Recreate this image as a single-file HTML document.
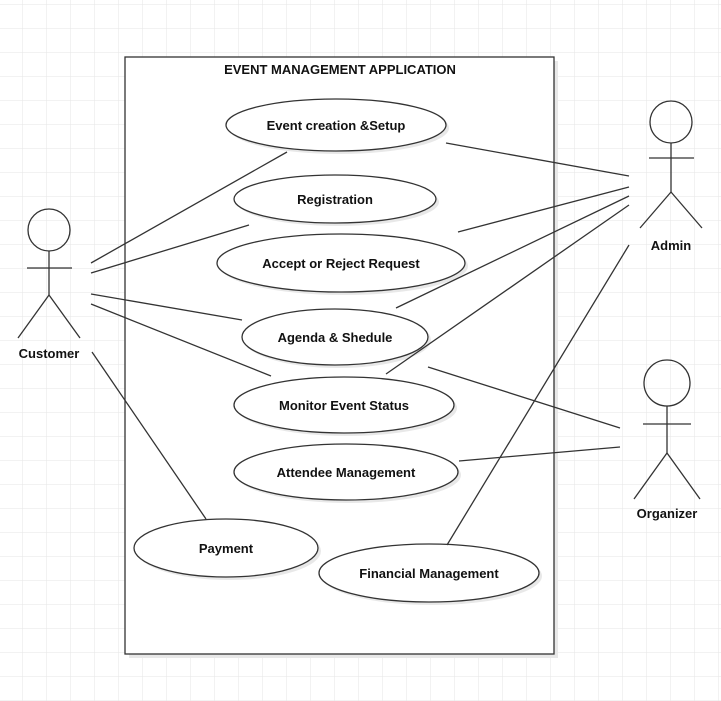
<!DOCTYPE html>
<html><head><meta charset="utf-8"><style>
html,body{margin:0;padding:0;background:#fff}
svg{display:block}
text{font-family:"Liberation Sans",Arial,sans-serif;font-weight:bold;font-size:13px;fill:#111;text-anchor:middle}
</style></head><body>
<svg width="721" height="701" viewBox="0 0 721 701" xmlns="http://www.w3.org/2000/svg">
<defs>
<pattern id="g" x="-1" y="5" width="24" height="24" patternUnits="userSpaceOnUse">
<path d="M24 0V24M0 24H24" stroke="#e6e6e6" stroke-width="1" fill="none"/>
</pattern>
</defs>
<rect width="721" height="701" fill="url(#g)"/>
<rect x="129" y="61" width="429" height="597" fill="#e8e8e8"/>
<rect x="125" y="57" width="429" height="597" fill="#fff" stroke="#333" stroke-width="1.3"/>
<text x="340" y="74">EVENT MANAGEMENT APPLICATION</text>
<g fill="#e8e8e8">
<ellipse cx="339" cy="128" rx="110" ry="26"/>
<ellipse cx="338" cy="202" rx="101" ry="24"/>
<ellipse cx="344" cy="266" rx="124" ry="29"/>
<ellipse cx="338" cy="340" rx="93" ry="28"/>
<ellipse cx="347" cy="408" rx="110" ry="28"/>
<ellipse cx="349" cy="475" rx="112" ry="28"/>
<ellipse cx="229" cy="551" rx="92" ry="29"/>
<ellipse cx="432" cy="576" rx="110" ry="29"/>
</g>
<g fill="#fff" stroke="#333" stroke-width="1.3">
<ellipse cx="336" cy="125" rx="110" ry="26"/>
<ellipse cx="335" cy="199" rx="101" ry="24"/>
<ellipse cx="341" cy="263" rx="124" ry="29"/>
<ellipse cx="335" cy="337" rx="93" ry="28"/>
<ellipse cx="344" cy="405" rx="110" ry="28"/>
<ellipse cx="346" cy="472" rx="112" ry="28"/>
<ellipse cx="226" cy="548" rx="92" ry="29"/>
<ellipse cx="429" cy="573" rx="110" ry="29"/>
</g>
<text x="336" y="130">Event creation &amp;Setup</text>
<text x="335" y="204">Registration</text>
<text x="341" y="268">Accept or Reject Request</text>
<text x="335" y="342">Agenda &amp; Shedule</text>
<text x="344" y="410">Monitor Event Status</text>
<text x="346" y="477">Attendee Management</text>
<text x="226" y="553">Payment</text>
<text x="429" y="578">Financial Management</text>
<g stroke="#333" stroke-width="1.3" fill="none">
<line x1="91" y1="263" x2="287" y2="152"/>
<line x1="91" y1="273" x2="249" y2="225"/>
<line x1="91" y1="294" x2="242" y2="320"/>
<line x1="91" y1="304" x2="271" y2="376"/>
<line x1="92" y1="352" x2="206" y2="519"/>
<line x1="446" y1="143" x2="629" y2="176"/>
<line x1="458" y1="232" x2="629" y2="187"/>
<line x1="396" y1="308" x2="629" y2="196"/>
<line x1="386" y1="374" x2="629" y2="205"/>
<line x1="447" y1="545" x2="629" y2="245"/>
<line x1="428" y1="367" x2="620" y2="428"/>
<line x1="459" y1="461" x2="620" y2="447"/>
<!-- customer -->
<circle cx="49" cy="230" r="21"/>
<line x1="49" y1="251" x2="49" y2="295"/>
<line x1="27" y1="268" x2="72" y2="268"/>
<line x1="49" y1="295" x2="18" y2="338"/>
<line x1="49" y1="295" x2="80" y2="338"/>
<!-- admin -->
<circle cx="671" cy="122" r="21"/>
<line x1="671" y1="143" x2="671" y2="192"/>
<line x1="649" y1="158" x2="694" y2="158"/>
<line x1="671" y1="192" x2="640" y2="228"/>
<line x1="671" y1="192" x2="702" y2="228"/>
<!-- organizer -->
<circle cx="667" cy="383" r="23"/>
<line x1="667" y1="406" x2="667" y2="453"/>
<line x1="643" y1="424" x2="691" y2="424"/>
<line x1="667" y1="453" x2="634" y2="499"/>
<line x1="667" y1="453" x2="700" y2="499"/>
</g>
<text x="49" y="358">Customer</text>
<text x="671" y="250">Admin</text>
<text x="667" y="518">Organizer</text>
</svg>
</body></html>
